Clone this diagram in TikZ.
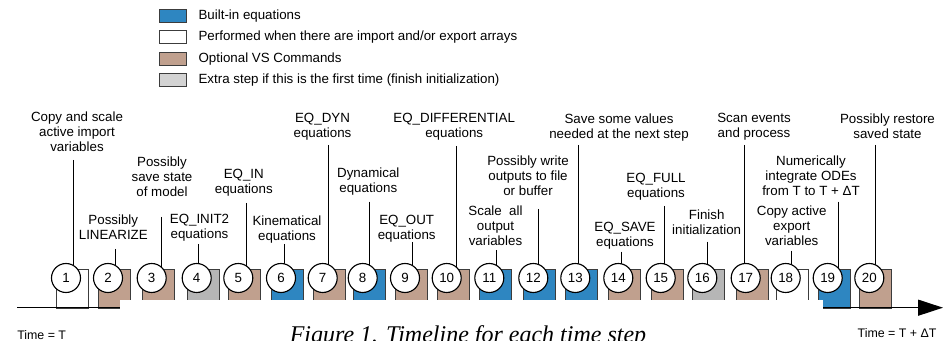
\documentclass[tikz,border=0pt]{standalone}
\usepackage{fontspec}
\setmainfont{Liberation Sans}
\newfontfamily\capfont{Liberation Serif}
\usetikzlibrary{arrows.meta}
\definecolor{eqblue}{RGB}{46,134,193}
\definecolor{vstan}{RGB}{192,160,142}
\definecolor{extragray}{RGB}{182,182,182}
\definecolor{leggray}{RGB}{211,211,211}
\definecolor{edgecol}{RGB}{60,60,60}
\begin{document}
\begin{tikzpicture}[x=0.75pt,y=-0.75pt,
  font=\fontsize{10}{11.25}\selectfont,
  lab/.style={align=center,anchor=north,inner sep=0pt},
  leader/.style={draw=black,line width=0.75pt},
  stepbox/.style={draw=edgecol,line width=0.75pt,minimum width=24pt,minimum height=29pt,anchor=north west,inner sep=0pt},
  num/.style={circle,draw=black,fill=white,line width=0.85pt,minimum size=21.75pt,inner sep=0pt},
  legbox/.style={draw=edgecol,line width=0.75pt,minimum width=20pt,minimum height=10pt,inner sep=0pt},
  legtext/.style={anchor=west,inner sep=0pt},
  axis/.style={draw=black,line width=1pt}]
\useasboundingbox (0,0) rectangle (943,341);

% legend
\node[legbox,fill=eqblue] (lg1) at (173.3,16) {};
\node[legbox,fill=white] (lg2) at (173.3,37.3) {};
\node[legbox,fill=vstan] (lg3) at (173.3,58.7) {};
\node[legbox,fill=leggray] (lg4) at (173.3,80.3) {};
\node[legtext] (lt1) at (198.3,16) {Built-in equations};
\node[legtext] (lt2) at (198.3,37.3) {Performed when there are import and/or export arrays};
\node[legtext] (lt3) at (198.3,58.7) {Optional VS Commands};
\node[legtext] (lt4) at (198.3,80.3) {Extra step if this is the first time (finish initialization)};

% labels
\node[lab] (n1) at (77,111.7) {Copy and scale\\active import\\variables};
\node[lab] (n2) at (113.3,214.3) {Possibly\\LINEARIZE};
\node[lab] (n3) at (162,156.7) {Possibly\\save state\\of model};
\node[lab] (n4) at (199.5,214.3) {EQ\_INIT2\\equations};
\node[lab] (n5) at (243.8,169.3) {EQ\_IN\\equations};
\node[lab] (n6) at (287,215.7) {Kinematical\\equations};
\node[lab] (n7) at (322.5,113.3) {EQ\_DYN\\equations};
\node[lab] (n8) at (368.3,167.3) {Dynamical\\equations};
\node[lab] (n9) at (406.7,215) {EQ\_OUT\\equations};
\node[lab] (n10) at (454.2,113.3) {EQ\_DIFFERENTIAL\\equations};
\node[lab] (n11) at (495.5,206) {Scale\ \ all\\output\\variables};
\node[lab] (n12) at (528,156) {Possibly write\\outputs to file\\or buffer};
\node[lab] (n13) at (619,113.3) {Save some values\\needed at the next step};
\node[lab] (n14) at (625,221.7) {EQ\_SAVE\\equations};
\node[lab] (n15) at (656,172.7) {EQ\_FULL\\equations};
\node[lab] (n16) at (706.7,210) {Finish\\initialization};
\node[lab] (n17) at (754,113.3) {Scan events\\and process};
\node[lab] (n18) at (791.7,206) {Copy active\\export\\variables};
\node[lab] (n19) at (811,156) {Numerically\\integrate ODEs\\from T to T + ΔT};
\node[lab] (n20) at (887.5,113.3) {Possibly restore\\saved state};

% circle positions (used by leaders)
\foreach \i/\cx in {1/66,2/108,3/151.7,4/196.7,5/238.3,6/281,7/322.7,8/362.7,9/405,10/446.7,
  11/489.3,12/533.3,13/575.3,14/618.3,15/660.7,16/702.3,17/745.7,18/785.7,19/827.7,20/869.3}
  \coordinate (c\i) at (\cx,278);

% leader tops
\foreach \i/\lx/\ly in {1/73.3/160,2/115/249,3/161/217,4/198.3/244,5/246/203,6/284.3/244,
  7/328.3/145,8/369.3/201.7,9/412.7/242,10/456/146,11/496.7/250,12/538.3/209,13/578.3/145,
  14/621.7/251.7,15/664/206,16/707.7/241.7,17/744.3/145,18/791/250.7,19/838.3/201.7,20/875.7/145}
{
  \coordinate (l\i) at (\lx,\ly);
  \draw[leader] (l\i) -- (l\i |- c\i);
}

% step boxes
\foreach \i/\cx/\col in {1/66/white,2/108/vstan,3/151.7/vstan,4/196.7/extragray,5/238.3/vstan,
  6/281/eqblue,7/322.7/vstan,8/362.7/eqblue,9/405/vstan,10/446.7/vstan,11/489.3/eqblue,
  12/533.3/eqblue,13/575.3/eqblue,14/618.3/vstan,15/660.7/vstan,16/702.3/extragray,
  17/745.7/vstan,18/785.7/white,19/827.7/eqblue,20/869.3/vstan}
  \node[stepbox,fill=\col] (b\i) at (\cx-10,269) {};

% white band under the caption
\fill[white] (120,300.3) rectangle (823.3,345);

% numbered circles
\foreach \i in {1,...,20}
  \node[num] (s\i) at (c\i) {\i};

% timeline
\coordinate (t0) at (17,307.7);
\coordinate (t1) at (120,307.7);
\coordinate (t2) at (823.3,307.7);
\coordinate (t3) at (943,307.7);
\draw[axis] (t0) -- (t1);
\draw[axis,-{Triangle[length=18.75pt,width=12pt]}] (t2) -- (t3);

\node[anchor=west,inner sep=0pt,font=\fontsize{9.3}{11}\selectfont] (tT) at (17,335) {Time = T};
\node[anchor=east,inner sep=0pt,font=\fontsize{9.3}{11}\selectfont] (tTd) at (936.7,333) {Time = T + ΔT};

% caption
\node[anchor=base,inner sep=0pt,font=\capfont\itshape\fontsize{18}{21}\selectfont] (cap) at (468,342.5) {Figure 1. Timeline for each time step};
\end{tikzpicture}
\end{document}
